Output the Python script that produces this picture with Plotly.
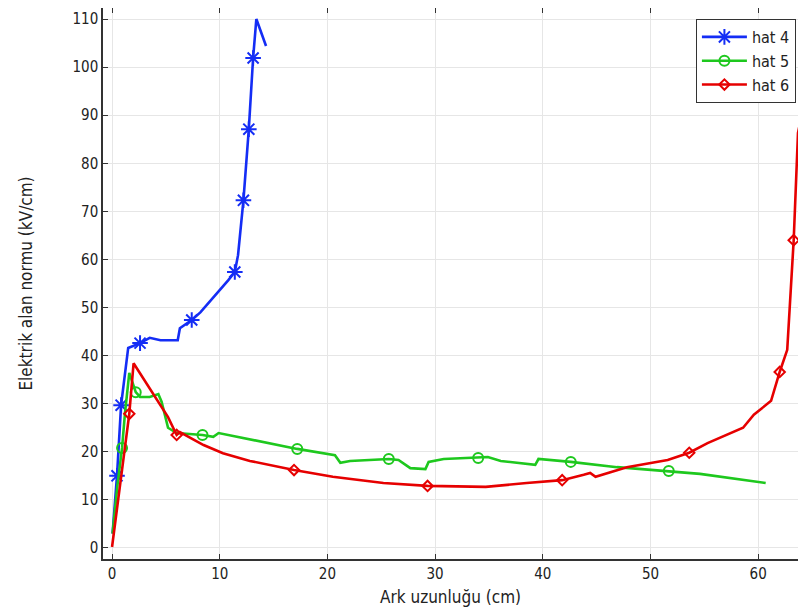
import plotly.graph_objects as go

# ---- data ----
hat4_x = [0.05, 0.46, 0.84, 1.2, 1.5, 2.6, 3.5, 4.5, 6.1, 6.3, 7.4, 8.2, 8.8, 9.6, 10.8, 11.4, 11.7, 12.2, 12.7, 13.1, 13.4, 14.3]
hat4_y = [3.0, 15.0, 29.7, 36.0, 41.6, 42.6, 43.7, 43.2, 43.2, 45.7, 47.4, 49.0, 50.5, 52.6, 55.7, 57.4, 60.9, 72.3, 87.1, 101.9, 110.0, 104.4]
hat4_marks = [1, 2, 5, 10, 15, 17, 18, 19]

hat5_x = [0.05, 0.5, 0.93, 1.2, 1.6, 2.2, 2.6, 3.5, 4.3, 4.6, 5.2, 6.0, 8.4, 9.4, 9.9, 17.2, 20.7, 21.2, 22.1, 25.7, 26.6, 27.7,
          29.1, 29.4, 30.8, 34.0, 34.9, 36.1, 39.3, 39.6, 42.6, 46.9, 51.7, 54.6, 60.7]
hat5_y = [3.0, 13.0, 20.8, 28.0, 36.4, 32.4, 31.4, 31.4, 32.0, 30.4, 25.0, 23.9, 23.5, 23.1, 23.9, 20.6, 19.3, 17.7, 18.1, 18.5, 18.3, 16.6,
          16.4, 17.9, 18.5, 18.7, 18.9, 18.1, 17.3, 18.5, 17.9, 16.8, 16.0, 15.4, 13.5]
hat5_marks = [2, 5, 12, 15, 19, 25, 30, 32]

hat6_x = [0.0, 1.6, 2.0, 5.2, 6.0, 6.3, 8.5, 10.3, 12.8, 16.9, 20.5, 25.2, 29.3, 34.7, 38.5, 41.8, 43.8, 44.4, 44.9, 47.8, 51.6,
          53.6, 55.3, 58.6, 59.6, 61.2, 62.0, 62.7, 63.3, 63.7, 64.2]
hat6_y = [0.2, 27.9, 38.4, 27.2, 23.5, 24.1, 21.4, 19.7, 18.1, 16.2, 14.8, 13.5, 12.9, 12.7, 13.5, 14.1, 15.2, 15.6, 14.8, 16.8, 18.3,
          19.8, 21.8, 25.0, 27.7, 30.6, 36.6, 41.2, 64.0, 86.3, 91.7]
hat6_marks = [1, 4, 9, 12, 15, 21, 26, 28]

x_ticks = [0, 10, 20, 30, 40, 50, 60]
y_ticks = [0, 10, 20, 30, 40, 50, 60, 70, 80, 90, 100, 110]

series = [
    ("hat 4", hat4_x, hat4_y, hat4_marks, "rgb(20,45,245)", "asterisk-open", 13),
    ("hat 5", hat5_x, hat5_y, hat5_marks, "rgb(30,200,30)", "circle-open", 10),
    ("hat 6", hat6_x, hat6_y, hat6_marks, "rgb(230,0,0)", "diamond-open", 8),
]

fig = go.Figure()
for name, xs, ys, marks, color, sym, msize in series:
    fig.add_trace(go.Scatter(x=xs, y=ys, mode="lines", line=dict(color=color, width=2.6),
                             showlegend=False, hoverinfo="skip"))
    fig.add_trace(go.Scatter(x=[xs[i] for i in marks], y=[ys[i] for i in marks], mode="markers",
                             marker=dict(symbol=sym, size=msize, color=color, line=dict(width=2, color=color)),
                             showlegend=False))
    fig.add_trace(go.Scatter(x=[None], y=[None], mode="lines+markers", name=name,
                             line=dict(color=color, width=2.6),
                             marker=dict(symbol=sym, size=msize, color=color, line=dict(width=2, color=color))))

font_family = "DejaVu Sans Condensed, DejaVu Sans, sans-serif"
fig.update_layout(
    width=790, height=600,
    margin=dict(l=95, r=0, t=0, b=49),
    plot_bgcolor="white", paper_bgcolor="white",
    font=dict(family=font_family, size=14, color="#222"),
    legend=dict(x=0.997, y=0.98, xanchor="right", yanchor="top", bgcolor="white",
                bordercolor="#333", borderwidth=1, font=dict(size=16), tracegroupgap=0,
                itemwidth=45),
)
fig.update_xaxes(range=[-0.84, 63.7], tickvals=x_ticks, ticks="inside", ticklen=5, tickcolor="#333",
                 showline=True, linecolor="#333", linewidth=1.5, mirror="ticks",
                 showgrid=True, gridcolor="#e6e6e6", gridwidth=1, zeroline=False, automargin=False,
                 title=dict(text="Ark uzunluğu (cm)", standoff=9), tickfont=dict(size=15))
fig.update_yaxes(range=[-2.3, 112.3], tickvals=y_ticks, ticks="inside", ticklen=5, tickcolor="#333",
                 showline=True, linecolor="#333", linewidth=1.5, mirror=False,
                 showgrid=True, gridcolor="#e6e6e6", gridwidth=1, zeroline=False, automargin=False,
                 title=dict(text="Elektrik alan normu (kV/cm)", standoff=36), tickfont=dict(size=15))

fig.write_html("out.html")
